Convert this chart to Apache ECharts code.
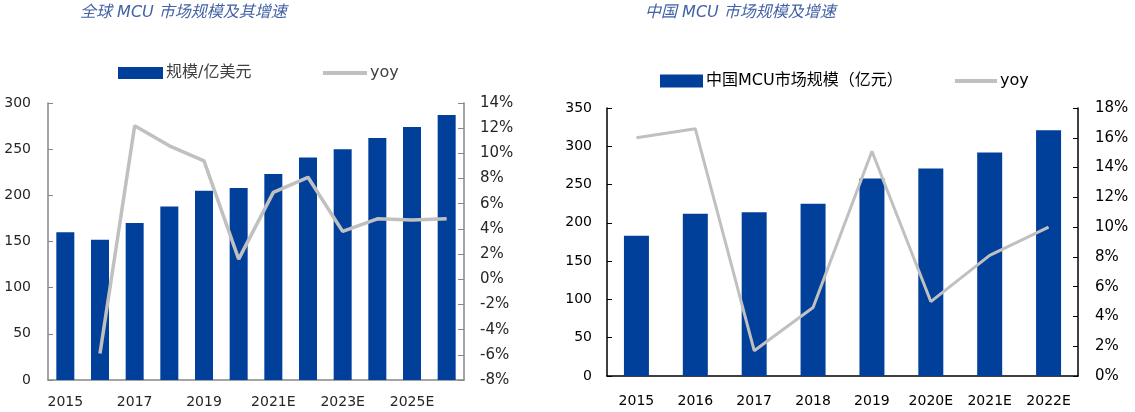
<!DOCTYPE html>
<html>
<head>
<meta charset="utf-8">
<script src="https://cdn.jsdelivr.net/npm/echarts@6/dist/echarts.min.js"></script>
<style>
html,body{margin:0;padding:0;background:#fff;}
#c{width:1135px;height:412px;}
</style>
</head>
<body>
<div id="c"></div>
<script>
const globalCategories = ['2015','2016','2017','2018','2019','2020','2021E','2022E','2023E','2024E','2025E','2026E'];
const globalSize = [160,152,170,188,205,208,223,241,250,262,274,287];
const globalYoy = [null,-5.9,12.2,10.6,9.4,1.6,6.9,8.1,3.8,4.8,4.7,4.8];

const chinaCategories = ['2015','2016','2017','2018','2019','2020E','2021E','2022E'];
const chinaSize = [183,212,214,225,258,271,292,321];
const chinaYoy = [16.0,16.6,1.7,4.6,15.1,5.0,8.1,10.0];

const globalTitle = '全球 MCU 市场规模及其增速';
const chinaTitle = '中国 MCU 市场规模及增速';
const globalBarName = '规模/亿美元';
const chinaBarName = '中国MCU市场规模（亿元）';
const lineName = 'yoy';

const FONT = 'DejaVu Sans, Noto Sans CJK SC, sans-serif';
const BAR = '#00409a';
const LINE = '#c0c0c0';

const chart = echarts.init(document.getElementById('c'), null, {renderer:'canvas'});

function legend(id, left, top, name, w, h, icon, color){
  return {
    id: id, left: left, top: top, padding: 0, itemGap: 0,
    itemWidth: w, itemHeight: h, icon: icon,
    selectedMode: false,
    data: [{name: name, icon: icon}],
    textStyle: {fontFamily: FONT, fontSize: 16, color: color, padding: [0,0,0,-2]}
  };
}

const option = {
  animation: false,
  backgroundColor: '#fff',
  title: [
    {text: globalTitle, left: 80, top: 5, padding: 0,
     textStyle:{fontFamily: FONT, fontSize: 16, fontStyle:'italic', fontWeight:'normal', color:'#4262a6'}},
    {text: chinaTitle, left: 645, top: 5, padding: 0,
     textStyle:{fontFamily: FONT, fontSize: 16, fontStyle:'italic', fontWeight:'normal', color:'#4262a6'}}
  ],
  legend: [
    legend('l1', 118, 65, globalBarName, 45, 12, 'rect', '#404040'),
    legend('l2', 323, 65, lineName, 44, 4, 'rect', '#404040'),
    legend('l3', 660, 73, chinaBarName, 43, 13, 'rect', '#000'),
    legend('l4', 955, 73, lineName, 42, 4, 'rect', '#000')
  ],
  grid: [
    {left: 48, top: 103, width: 416, height: 277},
    {left: 607, top: 108, width: 471, height: 268}
  ],
  xAxis: [
    {type:'category', gridIndex:0, data: globalCategories,
     axisLine:{lineStyle:{color:'#868686', width:1.5}},
     axisTick:{inside:true, length:5, interval:0, lineStyle:{color:'#868686'}},
     axisLabel:{interval:1, margin:15, fontFamily:FONT, fontSize:14, color:'#262626'}},
    {type:'category', gridIndex:1, data: chinaCategories,
     axisLine:{lineStyle:{color:'#000', width:1.5}},
     axisTick:{inside:true, length:5, interval:0, lineStyle:{color:'#000'}},
     axisLabel:{interval:0, margin:18, fontFamily:FONT, fontSize:14, color:'#000'}}
  ],
  yAxis: [
    {type:'value', gridIndex:0, min:0, max:300, interval:50,
     axisLine:{show:true, lineStyle:{color:'#868686', width:1.5}},
     axisTick:{show:true, inside:true, length:5, lineStyle:{color:'#868686'}},
     splitLine:{show:false},
     axisLabel:{margin:17, fontFamily:FONT, fontSize:14, color:'#262626'}},
    {type:'value', gridIndex:0, position:'right', min:-8, max:14, interval:2,
     axisLine:{show:true, lineStyle:{color:'#868686', width:1.5}},
     axisTick:{show:true, inside:true, length:6, lineStyle:{color:'#868686'}},
     splitLine:{show:false},
     axisLabel:{margin:16, fontFamily:FONT, fontSize:15, color:'#262626', formatter: v => v + '%'}},
    {type:'value', gridIndex:1, min:0, max:350, interval:50,
     axisLine:{show:true, lineStyle:{color:'#000', width:1.5}},
     axisTick:{show:true, inside:true, length:5, lineStyle:{color:'#000'}},
     splitLine:{show:false},
     axisLabel:{margin:15, fontFamily:FONT, fontSize:14, color:'#000'}},
    {type:'value', gridIndex:1, position:'right', min:0, max:18, interval:2,
     axisLine:{show:true, lineStyle:{color:'#000', width:1.5}},
     axisTick:{show:true, inside:true, length:5, lineStyle:{color:'#000'}},
     splitLine:{show:false},
     axisLabel:{margin:17, fontFamily:FONT, fontSize:15, color:'#000', formatter: v => v + '%'}}
  ],
  series: [
    {name: globalBarName, type:'bar', xAxisIndex:0, yAxisIndex:0, data: globalSize,
     barWidth: 18, itemStyle:{color: BAR}},
    {name: lineName, type:'line', xAxisIndex:0, yAxisIndex:1, data: globalYoy,
     symbol:'none', itemStyle:{color: LINE}, lineStyle:{color: LINE, width:3.5}},
    {name: chinaBarName, type:'bar', xAxisIndex:1, yAxisIndex:2, data: chinaSize,
     barWidth: 25, itemStyle:{color: BAR}},
    {name: lineName, type:'line', xAxisIndex:1, yAxisIndex:3, data: chinaYoy,
     symbol:'none', itemStyle:{color: LINE}, lineStyle:{color: LINE, width:3}}
  ]
};
chart.setOption(option);
</script>
</body>
</html>
